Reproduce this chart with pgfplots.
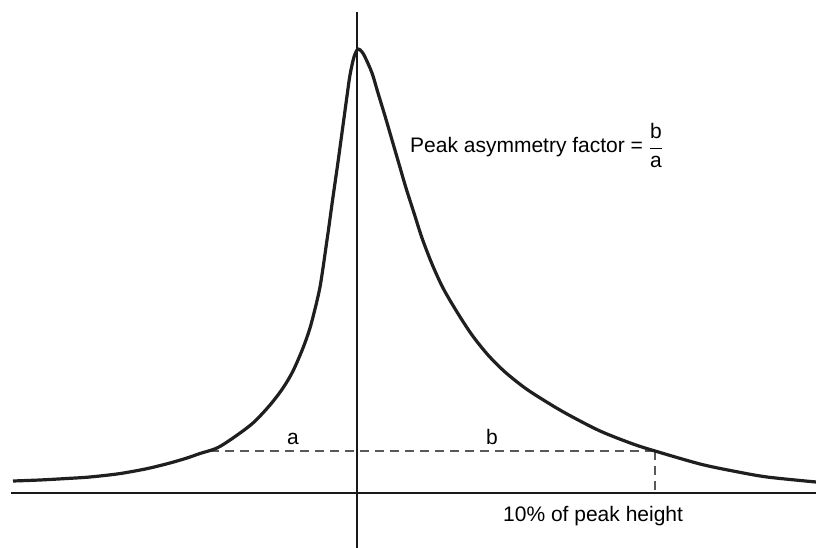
\documentclass[border=0pt]{standalone}
\usepackage{fontspec}
\setmainfont{Liberation Sans}
\usepackage{pgfplots}
\pgfplotsset{compat=1.18}
\begin{document}
\begin{tikzpicture}
\begin{axis}[
  width=816pt, height=548pt, scale only axis,
  xmin=0, xmax=816, ymin=-55, ymax=493,
  hide axis,
  font=\fontsize{21}{25}\selectfont,
]
% invisible frame so the page covers the whole area
\addplot[draw=none] coordinates {(0,-55) (816,493)};
% baseline and vertical axis
\addplot[line width=1.8pt, black!90] coordinates {(11,0) (816,0)};
\addplot[line width=1.8pt, black!90] coordinates {(357,-55) (357,481)};
% 10% of peak height lines
\addplot[line width=1.3pt, black!65, dash pattern=on 9pt off 6pt] coordinates {(210,42) (655,42)};
\addplot[line width=1.3pt, black!65, dash pattern=on 9pt off 6pt] coordinates {(655,42) (655,0)};
% peak
\addplot[line width=3.2pt, black!88, smooth, tension=0.5] coordinates {
(13,12) (40,13) (67,14.5) (90,16) (117,19) (135,22) (150,25) (170,30) (187,35)
(200,39.5) (217,45) (233,55) (253,70) (270,88) (283,105) (293,122) (303,145)
(310,165) (316,188) (320,206) (323,225) (326,246) (329,267) (332,289) (335,310)
(338,331) (341,353) (344,375) (347,397) (350,418) (354,436) (358,444)
(362,441) (365,436) (372,420) (378,400) (385,377) (392,353) (399,329) (406,305)
(414,280) (422,255) (432,229) (443,205) (457,181) (472,158) (488,138) (505,121)
(525,105) (545,92) (567,79) (600,62) (633,49) (655,42) (700,29) (733,22)
(767,16) (816,11)
};
\node[anchor=base] at (axis cs:293,48) {a};
\node[anchor=base] at (axis cs:492,48) {b};
\node[anchor=base west, inner sep=0pt] at (axis cs:503,-29) {10\% of peak height};
\node[anchor=base west, inner sep=0pt] at (axis cs:410,340) {Peak asymmetry factor = $\displaystyle\frac{\mbox{b}}{\mbox{a}}$};
\end{axis}
\end{tikzpicture}
\end{document}
